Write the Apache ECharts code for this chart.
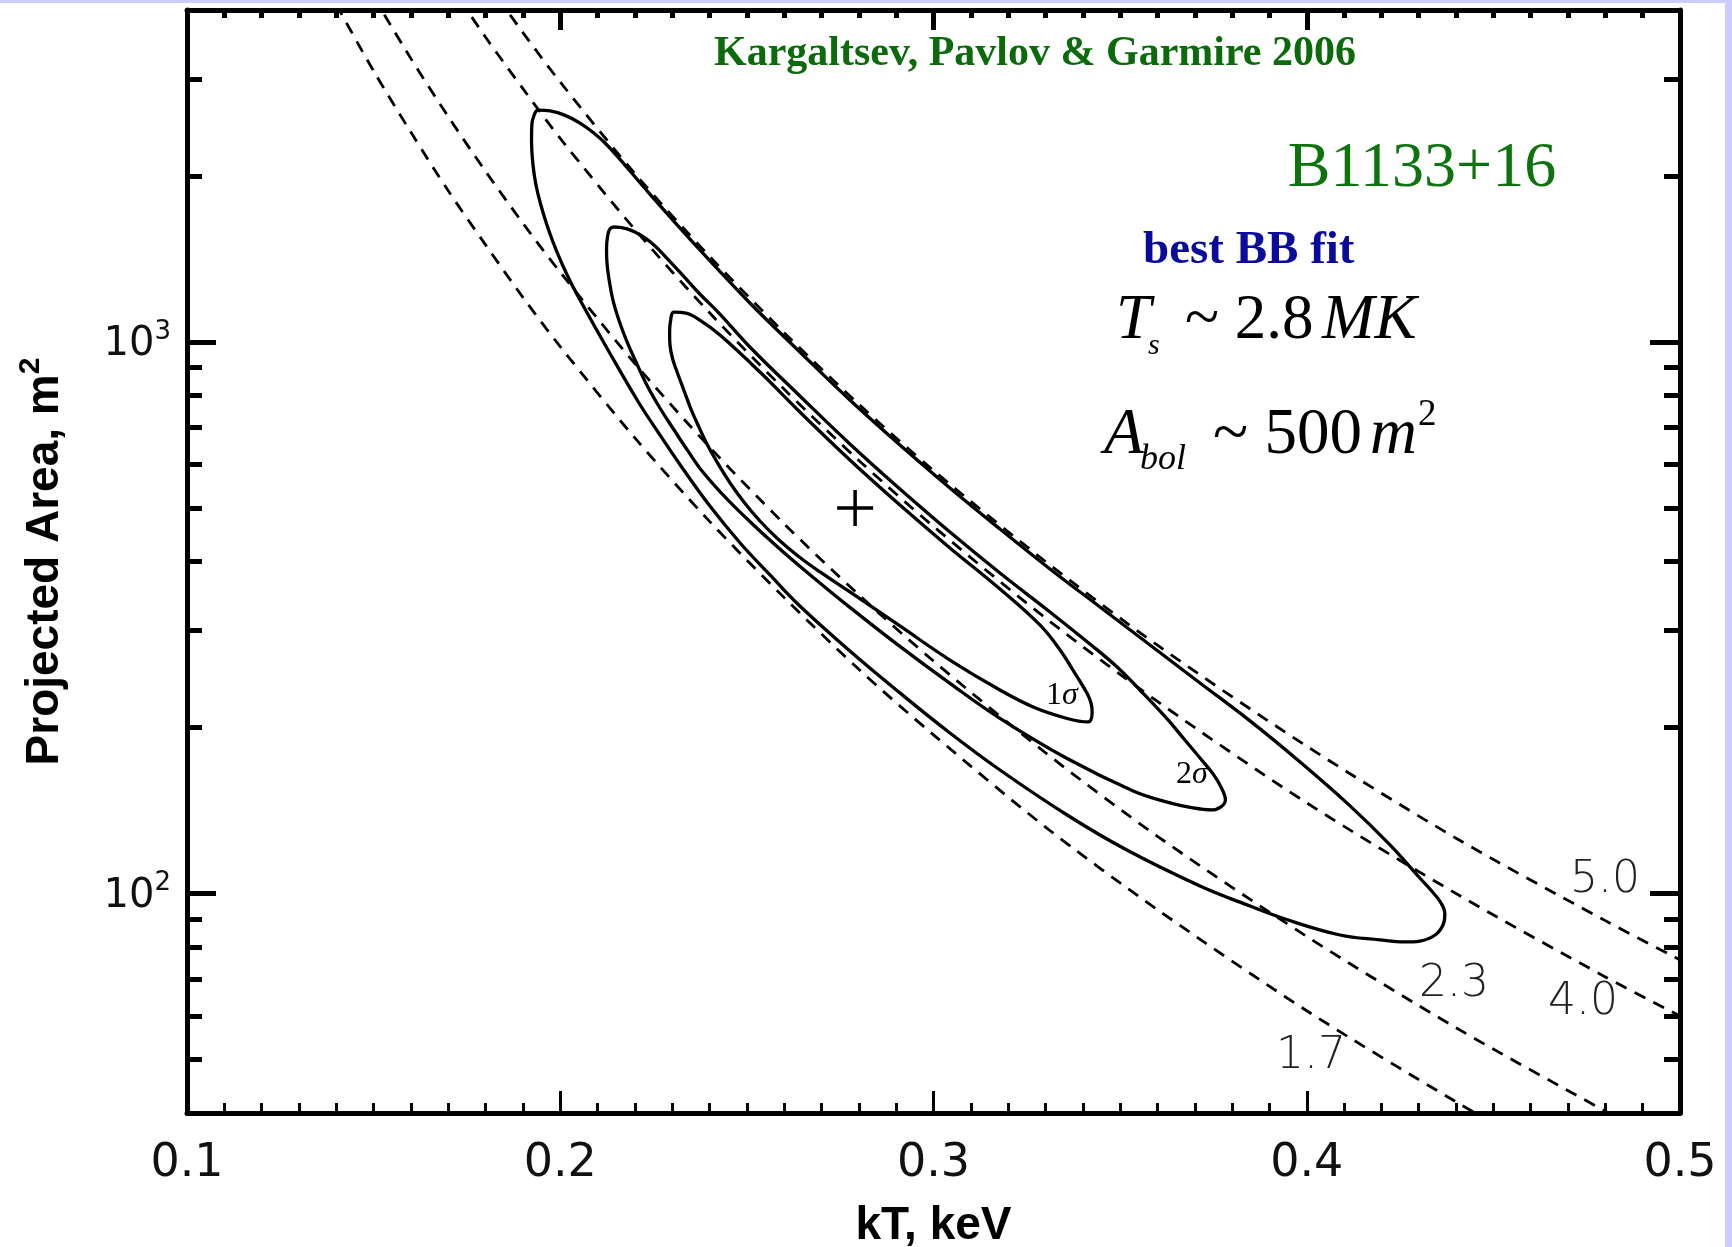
<!DOCTYPE html>
<html lang="en" style="height: 100%">
<head>
  <meta charset="utf-8">
</head>
<body style="height: 100%; margin: 0; background: #fff">
  <div id="container" style="width: 1732px; height: 1247px"></div>

  <script type="text/javascript" src="https://cdn.jsdelivr.net/npm/echarts@6.0.0/dist/echarts.min.js"></script>
  <script type="text/javascript">
    var dom = document.getElementById('container');
    var myChart = echarts.init(dom, null, { renderer: 'canvas' });

    // axis ticks
    var yMajorTicks = [100, 1000];
    var yMinorTicks = [50, 60, 70, 80, 90, 200, 300, 400, 500, 600, 700, 800, 900, 2000, 3000];

    // dashed curves, [kT keV, area m^2]
    var lum17 = [[0.14, 4090], [0.15, 3100], [0.16, 2400], [0.17, 1880], [0.18, 1500], [0.19, 1205],
      [0.20, 981], [0.22, 670], [0.24, 473], [0.26, 344], [0.28, 255], [0.30, 194], [0.33, 132],
      [0.36, 93.5], [0.40, 61.3], [0.44, 41.9], [0.46, 35.1]];
    var lum23 = [[0.15, 4227], [0.16, 3265], [0.17, 2562], [0.18, 2039], [0.19, 1642], [0.20, 1338],
      [0.22, 914], [0.24, 645], [0.26, 468], [0.28, 348], [0.30, 264], [0.33, 180], [0.36, 127],
      [0.40, 83.6], [0.44, 57.1], [0.48, 40.3], [0.49, 37.1]];
    var lum40 = [[0.17, 4490], [0.18, 3570], [0.19, 2880], [0.20, 2340], [0.22, 1600], [0.24, 1130],
      [0.26, 821], [0.28, 610], [0.30, 463], [0.33, 316], [0.36, 223], [0.40, 146], [0.44, 100],
      [0.48, 70.6], [0.50, 60.0]];
    var lum50 = [[0.18, 4520], [0.19, 3640], [0.20, 2960], [0.22, 2020], [0.24, 1430], [0.26, 1040],
      [0.28, 771], [0.30, 585], [0.33, 400], [0.36, 282], [0.40, 185], [0.44, 126], [0.48, 89.3],
      [0.50, 75.8]];

    // confidence contours (closed loops)
    var sigma1 = [[0.2910, 506.4], [0.2776, 611.2], [0.2642, 746.6], [0.2535, 882.4], [0.2428, 1029.9],
      [0.2374, 1096.2], [0.2337, 1128.7], [0.2305, 1133.4], [0.2295, 1087.1], [0.2293, 1038.5],
      [0.2294, 987.7], [0.2302, 927.7], [0.2316, 871.4], [0.2332, 815.1], [0.2348, 762.4],
      [0.2369, 707.2], [0.2393, 653.5], [0.2423, 601.1], [0.2455, 555.2], [0.2492, 512.8],
      [0.2535, 473.7], [0.2583, 439.5], [0.2637, 409.4], [0.2696, 382.9], [0.2776, 352.2],
      [0.2910, 305.6], [0.3044, 265.1], [0.3178, 233.9], [0.3267, 217.9], [0.3358, 207.7],
      [0.3414, 204.7], [0.3425, 213.4], [0.3422, 221.6], [0.3411, 231.0], [0.3385, 247.0],
      [0.3339, 276.5], [0.3285, 306.9], [0.3178, 356.6], [0.3044, 423.3], [0.2910, 506.4]];
    var sigma2 = [[0.2910, 541.5], [0.2776, 653.5], [0.2642, 798.3], [0.2508, 979.5], [0.2424, 1131.1],
      [0.2374, 1222.1], [0.2329, 1319.6], [0.2281, 1430.3], [0.2254, 1493.7], [0.2227, 1545.1],
      [0.2200, 1583.0], [0.2179, 1603.6], [0.2160, 1613.7], [0.2144, 1616.4], [0.2133, 1602.9],
      [0.2127, 1556.8], [0.2124, 1480.7], [0.2125, 1396.7], [0.2131, 1295.7], [0.2141, 1192.0],
      [0.2157, 1096.2], [0.2179, 1000.2], [0.2203, 920.0], [0.2232, 835.8], [0.2267, 759.2],
      [0.2305, 692.6], [0.2342, 634.7], [0.2382, 581.3], [0.2449, 517.2], [0.2522, 462.9],
      [0.2602, 413.7], [0.2683, 371.8], [0.2776, 330.3], [0.2910, 280.6], [0.3044, 240.5],
      [0.3178, 207.8], [0.3358, 175.7], [0.3535, 153.5], [0.3626, 146.5], [0.3695, 143.0],
      [0.3746, 141.8], [0.3770, 143.6], [0.3782, 147.8], [0.3770, 156.1], [0.3749, 164.8],
      [0.3714, 176.1], [0.3669, 191.4], [0.3626, 207.3], [0.3553, 233.9], [0.3492, 257.5],
      [0.3419, 283.5], [0.3312, 324.0], [0.3178, 381.3], [0.3044, 452.4], [0.2910, 541.5]];
    var sigma3 = [[0.2910, 650.6], [0.2776, 785.1], [0.2642, 959.4], [0.2508, 1177], [0.2374, 1469],
      [0.2240, 1855], [0.2152, 2175], [0.2120, 2296], [0.2093, 2384], [0.2053, 2495], [0.2013, 2576],
      [0.1973, 2624], [0.1940, 2634], [0.1930, 2580], [0.1924, 2484], [0.1923, 2325], [0.1927, 2094],
      [0.1935, 1926], [0.1948, 1772], [0.1967, 1610], [0.1991, 1457], [0.2021, 1312], [0.2053, 1192],
      [0.2128, 967.5], [0.2206, 785.1], [0.2267, 678.4], [0.2329, 588.6], [0.2401, 504.2],
      [0.2482, 432.1], [0.2562, 378.1], [0.2642, 332.2], [0.2776, 275.3], [0.2910, 231.1],
      [0.3044, 195.5], [0.3178, 167.5], [0.3358, 138.8], [0.3518, 119.9], [0.3714, 103.2],
      [0.3848, 94.9], [0.3942, 89.9], [0.4089, 84.1], [0.4196, 82.4], [0.4261, 81.7], [0.4303, 82.0],
      [0.4344, 84.1], [0.4365, 87.7], [0.4370, 91.8], [0.4360, 96.1], [0.4330, 101.9], [0.4303, 106.7],
      [0.4223, 122.5], [0.4116, 144.2], [0.3982, 173.2], [0.3848, 205.6], [0.3714, 240.9],
      [0.3580, 282.3], [0.3446, 330.8], [0.3312, 387.7], [0.3178, 458.1], [0.3044, 543.7],
      [0.2910, 650.6]];

    var bestFit = [[0.279, 500]];

    var axisFont = '"DejaVu Sans", sans-serif';
    var nameFont = '"Liberation Sans", Arial, sans-serif';
    var serif = '"Liberation Serif", "Times New Roman", serif';

    function xAx(pos, majorLen, minorLen, w, withLabel) {
      return {
        type: 'value', position: pos, min: 0.1, max: 0.5, interval: 0.1,
        axisLine: { show: true, onZero: false, lineStyle: { color: '#000', width: 5 } },
        axisTick: { show: true, inside: true, length: majorLen, lineStyle: { color: '#000', width: w } },
        minorTick: { show: true, splitNumber: 10, length: minorLen, lineStyle: { color: '#000', width: w } },
        splitLine: { show: false },
        minorSplitLine: { show: false },
        axisLabel: withLabel ? {
          show: true, margin: 28, color: '#111', fontSize: 46, fontFamily: axisFont,
          showMinLabel: true, showMaxLabel: true,
          formatter: function (v) { return v.toFixed(1); }
        } : { show: false },
        name: withLabel ? 'kT, keV' : '',
        nameLocation: 'middle', nameGap: 90,
        nameTextStyle: { fontSize: 46, fontWeight: 'bold', fontFamily: nameFont, color: '#000' }
      };
    }

    function yAx(pos, ticks, len, withLine, withLabel) {
      return {
        type: 'log', logBase: 10, min: 40, max: 4000, position: pos,
        axisLine: { show: withLine, lineStyle: { color: '#000', width: 5 } },
        axisTick: { show: true, inside: true, length: len, customValues: ticks,
          lineStyle: { color: '#000', width: 5 } },
        splitLine: { show: false },
        axisLabel: withLabel ? {
          show: true, margin: 16, color: '#111', fontFamily: axisFont,
          customValues: yMajorTicks,
          formatter: function (v) {
            return v === 100 ? '{b|10}{s|2}' : (v === 1000 ? '{b|10}{s|3}' : '');
          },
          rich: {
            b: { fontSize: 40, fontFamily: axisFont, color: '#111', lineHeight: 46, verticalAlign: 'bottom' },
            s: { fontSize: 26, fontFamily: axisFont, color: '#111', lineHeight: 26, verticalAlign: 'top' }
          }
        } : { show: false },
        name: withLabel ? '{n|Projected Area, m}{s|2}' : '',
        nameLocation: 'middle', nameGap: 119,
        nameTextStyle: {
          fontSize: 46, fontWeight: 'bold', fontFamily: nameFont, color: '#000',
          rich: {
            n: { fontSize: 46, fontWeight: 'bold', fontFamily: nameFont, color: '#000', lineHeight: 52, verticalAlign: 'bottom' },
            s: { fontSize: 30, fontWeight: 'bold', fontFamily: nameFont, color: '#000', lineHeight: 30, verticalAlign: 'top' }
          }
        }
      };
    }

    function dashed(data) {
      return { type: 'line', data: data, showSymbol: false, smooth: 0.3, silent: true, z: 2,
        lineStyle: { type: [12, 9], width: 2.8, color: '#000' } };
    }
    function contour(data) {
      return { type: 'line', data: data, showSymbol: false, smooth: 0.4, silent: true, z: 3,
        lineStyle: { width: 3.3, color: '#000' } };
    }

    function txt(x, y, text, font, fill, align) {
      return { type: 'text', x: x, y: y, silent: true, z: 10,
        style: { text: text, font: font, fill: fill, align: align || 'left', textAlign: align || 'left',
          verticalAlign: 'middle', textVerticalAlign: 'middle' } };
    }

    var lumFont = '200 44px "DejaVu Sans", sans-serif';

    var option = {
      animation: false,
      backgroundColor: '#fff',
      grid: { left: 187, right: 52, top: 10, bottom: 134, containLabel: false, outerBoundsMode: 'none' },
      xAxis: [xAx('bottom', 22, 10, 3, true), xAx('top', 20, 8, 5, false)],
      yAxis: [
        yAx('left', yMajorTicks, 29, true, true),
        yAx('left', yMinorTicks, 15, false, false),
        yAx('right', yMajorTicks, 30, true, false),
        yAx('right', yMinorTicks, 16, false, false)
      ],
      series: [
        dashed(lum17), dashed(lum23), dashed(lum40), dashed(lum50),
        contour(sigma1), contour(sigma2), contour(sigma3),
        { type: 'scatter', data: bestFit, symbol: 'path://M10,0L10,20M0,10L20,10', symbolSize: 36,
          silent: true, z: 4, itemStyle: { color: 'none', borderColor: '#000', borderWidth: 3.5, opacity: 1 } }
      ],
      graphic: [
        { type: 'rect', silent: true, shape: { x: 0, y: 0, width: 1732, height: 3 }, style: { fill: '#ccccff' } },
        { type: 'rect', silent: true, shape: { x: 1725, y: 0, width: 7, height: 1247 }, style: { fill: '#ccccff' } },
        txt(1035, 54, 'Kargaltsev, Pavlov & Garmire 2006', 'bold 42px ' + serif, '#0b6b0b', 'center'),
        txt(1422, 169, 'B1133+16', '64px ' + serif, '#0d730d', 'center'),
        txt(1143, 251, 'best BB fit', 'bold 47px ' + serif, '#0a0a9c'),
        txt(1116, 321, 'T', 'italic 63px ' + serif, '#000'),
        txt(1148, 346, 's', 'italic 30px ' + serif, '#000'),
        txt(1185, 321, '~ 2.8', '63px ' + serif, '#000'),
        txt(1322, 321, 'MK', 'italic 63px ' + serif, '#000'),
        txt(1104, 436, 'A', 'italic 65px ' + serif, '#000'),
        txt(1140, 460, 'bol', 'italic 36px ' + serif, '#000'),
        txt(1213, 436, '~ 500', '65px ' + serif, '#000'),
        txt(1370, 436, 'm', 'italic 65px ' + serif, '#000'),
        txt(1418, 415, '2', '37px ' + serif, '#000'),
        txt(1046, 696, '1', '32px ' + serif, '#000'),
        txt(1062, 696, 'σ', 'italic 32px ' + serif, '#000'),
        txt(1176, 775, '2', '32px ' + serif, '#000'),
        txt(1192, 775, 'σ', 'italic 32px ' + serif, '#000'),
        txt(1570, 881, '5.0', lumFont, '#222'),
        txt(1548, 1003, '4.0', lumFont, '#222'),
        txt(1419, 985, '2.3', lumFont, '#222'),
        txt(1276, 1057, '1.7', lumFont, '#222')
      ]
    };

    myChart.setOption(option);
    window.addEventListener('resize', myChart.resize);
  </script>
</body>
</html>
